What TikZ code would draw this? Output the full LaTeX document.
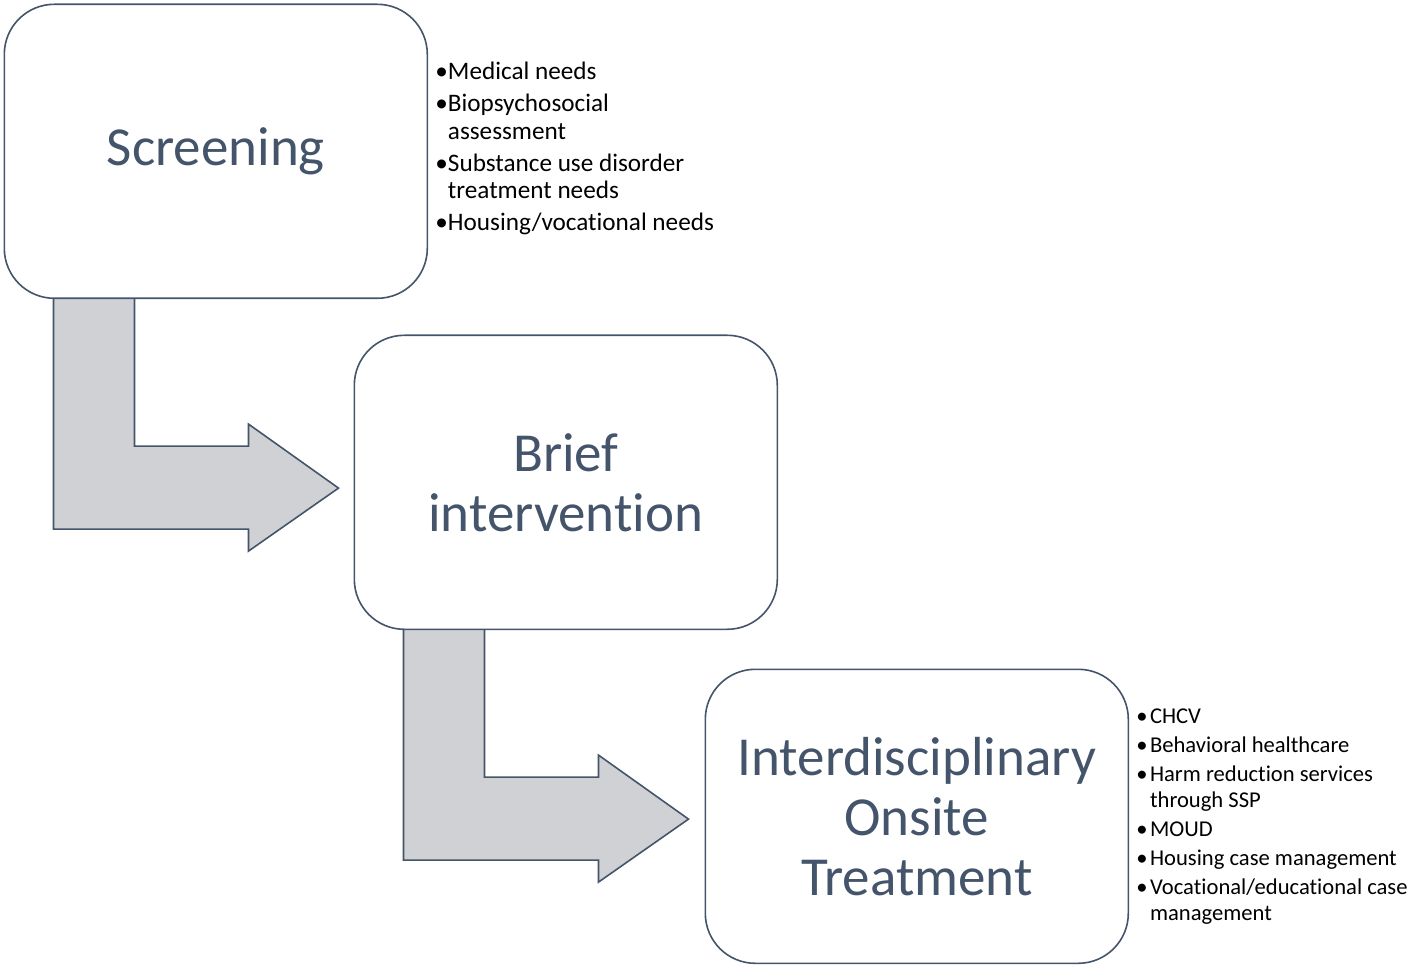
\documentclass[tikz,border=0pt]{standalone}
\usepackage{fontspec}
\setmainfont{Carlito}[Ligatures=NoCommon]
\usetikzlibrary{positioning,backgrounds}
\definecolor{slate}{HTML}{44546A}
\definecolor{arrowgray}{HTML}{D0D1D5}

\tikzset{
    elbowarrow/.pic={
        \draw[flow] (50,-10) -- (50,230) -- (245,230) -- (245,252) -- (335,189)
            -- (245,125) -- (245,147) -- (131,147) -- (131,-10) -- cycle;
    }
}

\begin{document}
\begin{tikzpicture}[
    x=0.5pt, y=-0.5pt,
    stage/.style={draw=slate, line width=0.8pt, fill=white, rounded corners=25pt, minimum width=211.5pt, minimum height=147pt, inner sep=0pt, anchor=north west, align=center, text=slate, font=\fontsize{27.5}{30}\selectfont},
    notes/.style={anchor=north west, inner sep=0pt, align=left, font=\fontsize{12.6}{13.75}\selectfont},
    notes2/.style={anchor=north west, inner sep=0pt, align=left, font=\fontsize{11.3}{13}\selectfont},
    flow/.style={draw=slate, line width=0.8pt, fill=arrowgray, line join=miter}
]
\useasboundingbox (0,0) rectangle (1416,967);

\node[stage] (screen) at (3.5,3.5) {Screening};
\node[stage] (brief) at (353.5,334.5) {Brief\\intervention};
\node[stage] (onsite) at (704.5,668.5) {Interdisciplinary\\Onsite\\Treatment};

% lists beside the boxes
\node[notes] (screennotes) at (435,62) {%
•Medical needs\\[2.2pt]%
•Biopsychosocial\\%
\hphantom{•}assessment\\[2.2pt]%
•Substance use disorder\\%
\hphantom{•}treatment needs\\[2.2pt]%
•Housing/vocational needs};

\node[notes2] (onsitenotes) at (1136,708) {%
•\kern1.2pt CHCV\\[1.5pt]%
•\kern1.2pt Behavioral healthcare\\[1.5pt]%
•\kern1.2pt Harm reduction services\\%
\hphantom{•\kern1.2pt}through SSP\\[1.5pt]%
•\kern1.2pt MOUD\\[1.5pt]%
•\kern1.2pt Housing case management\\[1.5pt]%
•\kern1.2pt Vocational/educational case\\%
\hphantom{•\kern1.2pt}management};

% bent arrows behind the boxes
\begin{scope}[on background layer]
    \pic at (screen.south west) {elbowarrow};
    \pic at (brief.south west) {elbowarrow};
\end{scope}
\end{tikzpicture}
\end{document}
